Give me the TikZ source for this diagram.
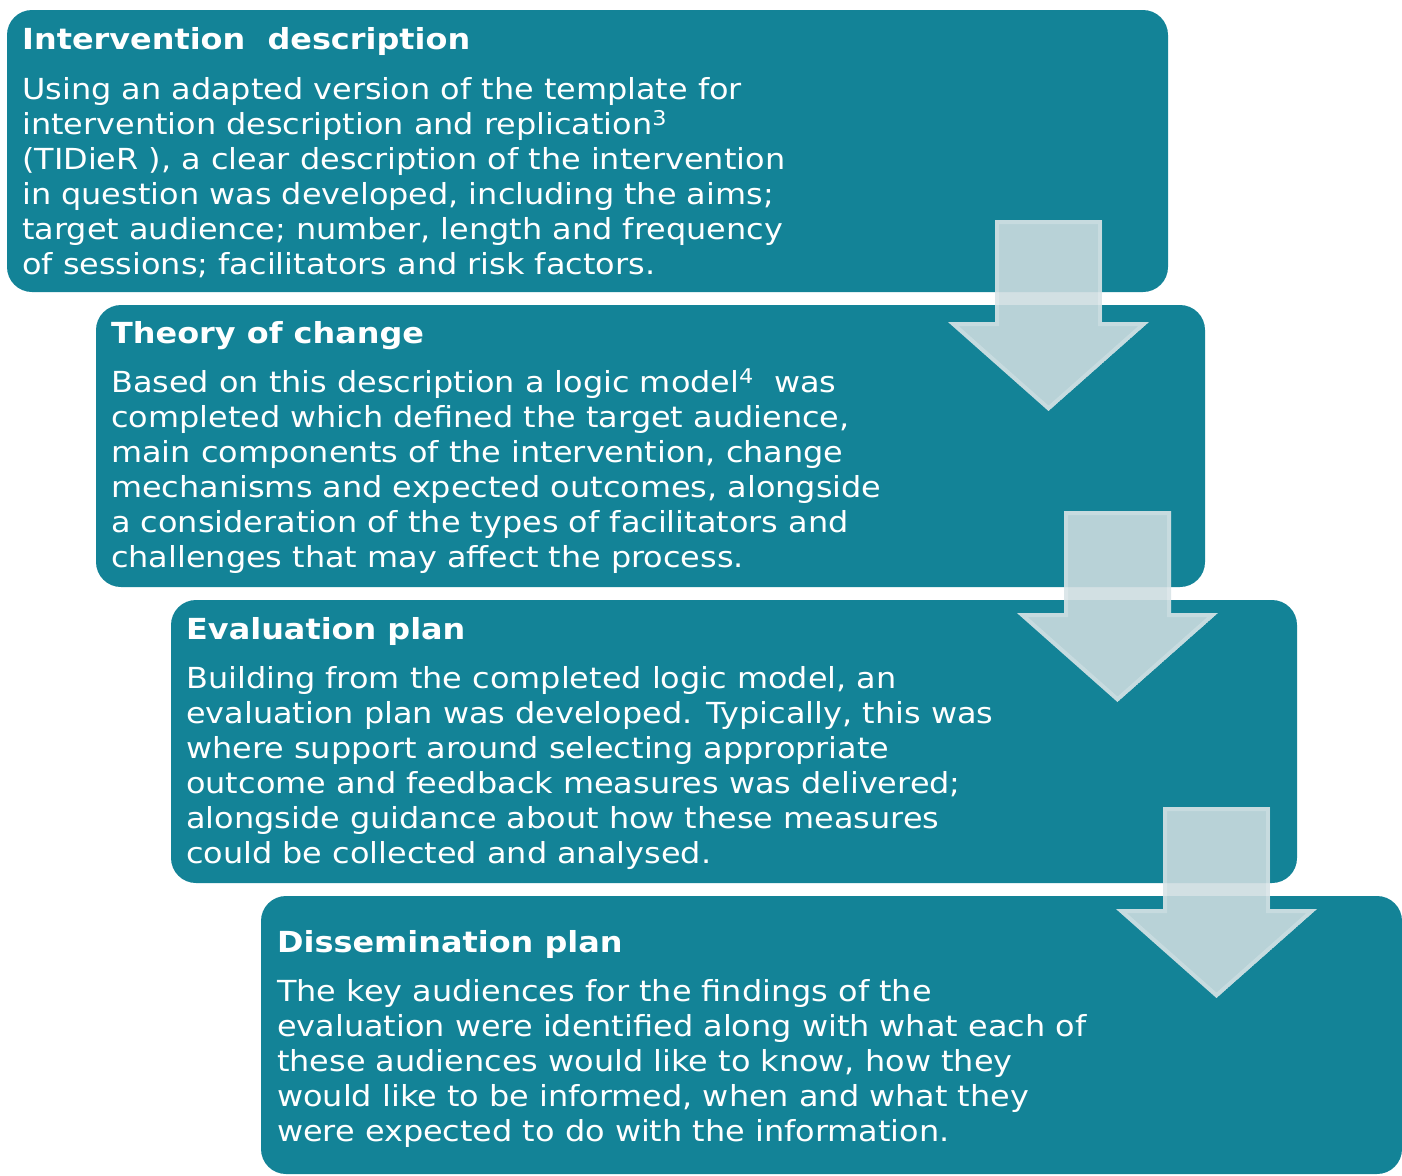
\documentclass[tikz,border=0pt]{standalone}
\usepackage{fontspec}
\setmainfont{DejaVu Sans}[FakeStretch=1.1]
% block arrow pointing down; #1,#2 = top-left corner of the shaft
\newcommand\stagearrow[2]{%
  \begin{scope}
    \clip (#1,#2) -- ++(107,0) -- ++(0,102) -- ++(47,0) -- ++(-100.5,89)
      -- ++(-100.5,-89) -- ++(47,0) -- cycle;
    \fill[arrowfill, fill opacity=0.89] (#1,#2) -- ++(107,0) -- ++(0,102) -- ++(47,0) -- ++(-100.5,89)
      -- ++(-100.5,-89) -- ++(47,0) -- cycle;
    \draw[white, draw opacity=0.22, line width=8pt] (#1,#2) -- ++(107,0) -- ++(0,102) -- ++(47,0) -- ++(-100.5,89)
      -- ++(-100.5,-89) -- ++(47,0) -- cycle;
  \end{scope}}
\begin{document}
\begin{tikzpicture}[x=1pt,y=-1pt,
  panel/.style={fill=tealbox, draw=none, rounded corners=25pt, inner sep=0pt, outer sep=0pt, anchor=north west},
  headline/.style={anchor=base west, inner sep=0pt, text=white, font=\fontsize{29}{35}\selectfont\bfseries},
  bodytext/.style={anchor=north west, inner sep=0pt, text=white, align=left, font=\fontsize{29}{35}\selectfont}
]
\definecolor{tealbox}{RGB}{19,131,151}
\definecolor{arrowfill}{RGB}{205,220,224}
\useasboundingbox (0,0) rectangle (1402,1175);

% the four stage panels
\node[panel, minimum width=1161pt, minimum height=282pt] (p1) at (7,10) {};
\node[panel, minimum width=1109pt, minimum height=282pt] (p2) at (96,305) {};
\node[panel, minimum width=1126pt, minimum height=283pt] (p3) at (171,600) {};
\node[panel, minimum width=1141pt, minimum height=278pt] (p4) at (261,896) {};

% headings
\node[headline] (h1) at (22,49) {Intervention\ \ description};
\node[headline] (h2) at (111,343) {Theory of change};
\node[headline] (h3) at (186,639) {Evaluation plan};
\node[headline] (h4) at (277,952) {Dissemination plan};

% descriptions (first line strut fixes the top edge 24pt above the first baseline)
\node[bodytext] (t1) at (22,75) {\rule{0pt}{24pt}Using an adapted version of the template for\\
intervention description and replication\textsuperscript{3}\\
(TIDieR ), a clear description of the intervention\\
in question was developed, including the aims;\\
target audience; number, length and frequency\\
of sessions; facilitators and risk factors.};

\node[bodytext] (t2) at (111,368) {\rule{0pt}{24pt}Based on this description a logic model\textsuperscript{4}\ \ was\\
completed which defined the target audience,\\
main components of the intervention, change\\
mechanisms and expected outcomes, alongside\\
a consideration of the types of facilitators and\\
challenges that may affect the process.};

\node[bodytext] (t3) at (186,664) {\rule{0pt}{24pt}Building from the completed logic model, an\\
evaluation plan was developed. Typically, this was\\
where support around selecting appropriate\\
outcome and feedback measures was delivered;\\
alongside guidance about how these measures\\
could be collected and analysed.};

\node[bodytext] (t4) at (277,977) {\rule{0pt}{24pt}The key audiences for the findings of the\\
evaluation were identified along with what each of\\
these audiences would like to know, how they\\
would like to be informed, when and what they\\
were expected to do with the information.};

% translucent block arrows between the stages
\stagearrow{995}{220}
\stagearrow{1064}{511}
\stagearrow{1163}{807}
\end{tikzpicture}
\end{document}
